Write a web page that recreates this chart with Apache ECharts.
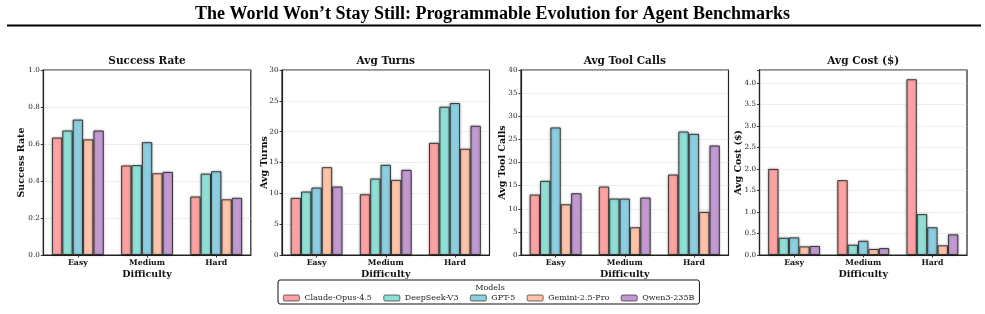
<!DOCTYPE html>
<html>
<head>
<meta charset="utf-8">
<script src="https://cdn.jsdelivr.net/npm/echarts/dist/echarts.min.js"></script>
<style>
  html, body { margin: 0; padding: 0; background: #fff; }
  #chart { width: 985px; height: 314px; }
</style>
</head>
<body>
<div id="chart"></div>
<script>
// data
const categories = ['Easy', 'Medium', 'Hard'];
const models = ['Claude-Opus-4.5', 'DeepSeek-V3', 'GPT-5', 'Gemini-2.5-Pro', 'Qwen3-235B'];
const colors = ['#fea3a3', '#8fdfd5', '#8dcee0', '#fec4aa', '#c19ad1'];

// one row per model, one value per difficulty
const successRate = [
  [0.635, 0.484, 0.316],
  [0.673, 0.486, 0.440],
  [0.732, 0.610, 0.453],
  [0.625, 0.442, 0.301],
  [0.673, 0.449, 0.309]
];
const avgTurns = [
  [9.26, 9.85, 18.19],
  [10.29, 12.40, 24.04],
  [10.94, 14.62, 24.64],
  [14.24, 12.18, 17.22],
  [11.10, 13.80, 20.95]
];
const avgToolCalls = [
  [13.07, 14.80, 17.40],
  [16.03, 12.20, 26.70],
  [27.58, 12.20, 26.20],
  [10.97, 6.00, 9.31],
  [13.36, 12.42, 23.68]
];
const avgCost = [
  [2.00, 1.74, 4.085],
  [0.40, 0.24, 0.95],
  [0.41, 0.33, 0.645],
  [0.20, 0.14, 0.225],
  [0.21, 0.16, 0.48]
];

const panels = [
  { title: 'Success Rate', yName: 'Success Rate', data: successRate, max: 1.0, interval: 0.2, digits: 1, nameGap: 17 },
  { title: 'Avg Turns', yName: 'Avg Turns', data: avgTurns, max: 30, interval: 5, digits: 0, nameGap: 12.5 },
  { title: 'Avg Tool Calls', yName: 'Avg Tool Calls', data: avgToolCalls, max: 40, interval: 5, digits: 0, nameGap: 13.5 },
  { title: 'Avg Cost ($)', yName: 'Avg Cost ($)', data: avgCost, max: 4.3, interval: 0.5, digits: 1, nameGap: 16 }
];

const gridLefts = [43.3, 282, 521, 759.5];
const gridW = 207.5;
const gridTop = 70;
const gridH = 185;
const serif = 'DejaVu Serif';

const chart = echarts.init(document.getElementById('chart'), null, { renderer: 'canvas' });

const grids = [], xAxes = [], yAxes = [], series = [];
const graphics = [
  {
    type: 'text',
    style: {
      text: 'The World Won\u2019t Stay Still: Programmable Evolution for Agent Benchmarks',
      x: 492.5, y: 14, textAlign: 'center', textVerticalAlign: 'middle',
      font: 'bold 18px "Liberation Serif"', fill: '#000'
    }
  },
  {
    type: 'line',
    shape: { x1: 7, y1: 25.5, x2: 981, y2: 25.5 },
    style: { stroke: '#000', lineWidth: 2 }
  },
  {
    type: 'text',
    style: {
      text: 'Models', x: 490, y: 287.5, textAlign: 'center', textVerticalAlign: 'middle',
      font: '8px "DejaVu Serif"', fill: '#222'
    },
    z: 100
  }
];

panels.forEach((p, i) => {
  grids.push({ left: gridLefts[i], top: gridTop, width: gridW, height: gridH, show: true, borderColor: '#222', borderWidth: 1.2, backgroundColor: '#fff' });
  xAxes.push({
    type: 'category', gridIndex: i, data: categories,
    name: 'Difficulty', nameLocation: 'middle', nameGap: 14.5, nameMoveOverlap: false,
    nameTextStyle: { fontFamily: serif, fontWeight: 'bold', fontSize: 9.5, color: '#111' },
    axisLine: { lineStyle: { color: '#222', width: 1.2 } },
    axisTick: { show: true, alignWithLabel: true, length: 2.5, lineStyle: { color: '#333' } },
    axisLabel: { fontFamily: serif, fontWeight: 'bold', fontSize: 7.8, color: '#111', margin: 4 },
    splitLine: { show: false }
  });
  yAxes.push({
    type: 'value', gridIndex: i, min: 0, max: p.max, interval: p.interval,
    name: p.yName, nameLocation: 'middle', nameGap: p.nameGap, nameMoveOverlap: false,
    nameTextStyle: { fontFamily: serif, fontWeight: 'bold', fontSize: 9.5, color: '#111' },
    axisLine: { show: true, lineStyle: { color: '#222', width: 1.2 } },
    axisTick: { show: true, length: 2.5, lineStyle: { color: '#333' } },
    axisLabel: {
      fontFamily: serif, fontSize: 7.2, color: '#222', margin: 3.5,
      formatter: v => {
        const k = v / p.interval;
        if (Math.abs(k - Math.round(k)) > 1e-6) return '';
        return v.toFixed(p.digits);
      }
    },
    splitLine: { show: true, lineStyle: { color: '#d4d4d4', type: 'dotted', width: 0.8 } }
  });
  graphics.push({
    type: 'text',
    style: {
      text: p.title, x: gridLefts[i] + gridW / 2, y: 61.5, textAlign: 'center', textVerticalAlign: 'middle',
      font: 'bold 10.5px "DejaVu Serif"', fill: '#111'
    }
  });
  models.forEach((m, j) => {
    series.push({
      type: 'bar', name: m, xAxisIndex: i, yAxisIndex: i,
      data: p.data[j], barWidth: '15%', barGap: '0%',
      itemStyle: {
        color: colors[j], borderColor: 'rgba(35,35,35,0.85)', borderWidth: 1,
        shadowColor: 'rgba(0,0,0,0.35)', shadowBlur: 2.5
      },
      emphasis: { disabled: true }
    });
  });
});

chart.setOption({
  animation: false,
  backgroundColor: '#fff',
  grid: grids,
  xAxis: xAxes,
  yAxis: yAxes,
  series: series,
  legend: {
    data: models, left: 278, top: 280,
    padding: [14, 5, 2, 5], itemGap: 11.5, itemWidth: 16, itemHeight: 6,
    borderColor: '#111', borderWidth: 1, borderRadius: 2, backgroundColor: '#fff',
    textStyle: { fontFamily: serif, fontSize: 8, color: '#222' },
    itemStyle: { borderColor: 'rgba(35,35,35,0.85)', borderWidth: 0.8, shadowBlur: 0 },
    selectedMode: false
  },
  graphic: graphics
});
</script>
</body>
</html>
